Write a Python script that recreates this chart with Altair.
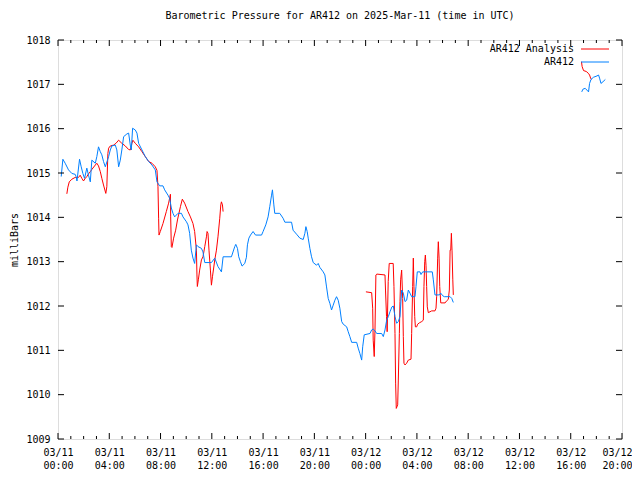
import altair as alt
import pandas as pd

TITLE = "Barometric Pressure for AR412 on 2025-Mar-11 (time in UTC)"
Y_TITLE = "milliBars"
SERIES = ["AR412 Analysis", "AR412"]
COLORS = ["#ff0000", "#0080ff"]

# hours since 2025-03-11 00:00 UTC
x_major = [0, 4, 8, 12, 16, 20, 24, 28, 32, 36, 40, 44]
x_minor = [h for h in range(0, 45) if h % 4 != 0]
y_major = [1009, 1010, 1011, 1012, 1013, 1014, 1015, 1016, 1017, 1018]

obs_hours = [
    0.25, 0.38, 0.56, 0.82, 1.08, 1.34, 1.41, 1.48, 1.68, 1.81,
    1.94, 2.07, 2.25, 2.38, 2.52, 2.64, 2.91, 3.03, 3.16, 3.30,
    3.42, 3.55, 3.69, 3.95, 4.08, 4.20, 4.47, 4.59, 4.73, 4.86,
    4.98, 5.12, 5.37, 5.51, 5.64, 5.72, 5.82, 6.03, 6.16, 6.29,
    6.55, 6.81, 7.07, 7.33, 7.59, 7.72, 7.93, 8.19, 8.32, 8.58,
    8.71, 8.84, 8.97, 9.10, 9.36, 9.63, 9.75, 10.02, 10.14, 10.27,
    10.40, 10.53, 10.66, 10.80, 10.92, 11.19, 11.31, 11.45, 11.97, 12.23,
    12.48, 12.75, 12.88, 13.53, 13.79, 13.87, 14.00, 14.10, 14.23, 14.36,
    14.57, 14.70, 14.78, 14.89, 15.02, 15.22, 15.41, 15.88, 16.00, 16.21,
    16.39, 16.52, 16.66, 16.73, 16.84, 16.91, 17.30, 17.56, 17.70, 18.22,
    18.34, 18.61, 18.87, 19.13, 19.26, 19.34, 19.44, 19.52, 19.65, 19.78,
    19.91, 20.17, 20.30, 20.43, 20.69, 20.82, 20.95, 21.08, 21.21, 21.34,
    21.47, 21.60, 21.73, 21.86, 21.99, 22.13, 22.25, 22.52, 22.64, 22.77,
    22.91, 23.30, 23.42, 23.55, 23.69, 23.77, 23.89, 24.34, 24.47, 24.59,
    24.73, 24.86, 25.25, 25.38, 25.51, 25.64, 25.77, 25.90, 26.05, 26.16,
    26.29, 26.42, 26.55, 26.68, 26.81, 26.94, 27.07, 27.20, 27.33, 27.46,
    27.59, 27.85, 27.93, 28.03, 28.24, 28.32, 28.45, 29.20, 29.28, 29.41,
    29.75, 29.86, 30.02, 30.14, 30.59, 30.72, 30.84,
    40.86, 40.95, 41.13, 41.26, 41.39, 41.47, 41.58, 41.78, 42.05, 42.17,
    42.25, 42.36, 42.52, 42.70,
]
obs_mb = [
    1014.92, 1015.31, 1015.22, 1015.07, 1014.99, 1014.97, 1014.92, 1014.82, 1015.31, 1015.14,
    1014.99, 1014.88, 1015.11, 1014.95, 1014.80, 1015.29, 1015.22, 1015.37, 1015.59, 1015.48,
    1015.41, 1015.26, 1015.14, 1015.37, 1015.52, 1015.61, 1015.63, 1015.52, 1015.14, 1015.29,
    1015.52, 1015.82, 1015.88, 1015.90, 1015.63, 1015.52, 1016.01, 1015.97, 1015.90, 1015.67,
    1015.52, 1015.37, 1015.26, 1015.18, 1015.07, 1014.80, 1014.71, 1014.71, 1014.62, 1014.50,
    1014.43, 1014.21, 1014.09, 1014.01, 1014.09, 1014.09, 1014.01, 1013.90, 1013.83, 1013.64,
    1013.26, 1013.08, 1012.96, 1013.38, 1013.34, 1013.30, 1013.22, 1012.98, 1012.98, 1013.08,
    1012.89, 1012.77, 1013.11, 1013.11, 1013.34, 1013.39, 1013.30, 1013.11, 1013.00, 1012.90,
    1012.96, 1013.10, 1013.38, 1013.53, 1013.60, 1013.68, 1013.60, 1013.60, 1013.68, 1013.83,
    1014.01, 1014.24, 1014.50, 1014.62, 1014.28, 1014.09, 1014.09, 1013.98, 1013.89, 1013.89,
    1013.71, 1013.62, 1013.53, 1013.50, 1013.64, 1013.79, 1013.68, 1013.53, 1013.30, 1013.11,
    1012.98, 1012.92, 1012.96, 1012.87, 1012.77, 1012.70, 1012.43, 1012.17, 1012.06, 1011.91,
    1012.02, 1012.13, 1012.21, 1012.13, 1011.95, 1011.65, 1011.59, 1011.53, 1011.42, 1011.31,
    1011.18, 1011.18, 1011.05, 1010.93, 1010.78, 1011.08, 1011.35, 1011.38, 1011.46, 1011.48,
    1011.44, 1011.38, 1011.38, 1011.31, 1011.46, 1011.68, 1011.76, 1011.87, 1011.98, 1012.00,
    1011.76, 1011.61, 1011.65, 1011.76, 1012.36, 1012.29, 1012.10, 1012.13, 1012.36, 1012.29,
    1012.21, 1012.21, 1012.44, 1012.77, 1012.77, 1012.71, 1012.77, 1012.77, 1012.59, 1012.25,
    1012.25, 1012.29, 1012.23, 1012.21, 1012.21, 1012.17, 1012.08,
    1016.83, 1016.89, 1016.91, 1016.87, 1016.83, 1017.02, 1017.11, 1017.16, 1017.19, 1017.21,
    1017.14, 1017.02, 1017.06, 1017.11,
]

ana_hours = [
    0.69, 0.77, 0.88, 1.08, 1.34, 1.60, 1.73, 1.86, 1.99, 2.13,
    2.25, 2.38, 2.52, 2.64, 2.91, 3.03, 3.16, 3.30, 3.42, 3.55,
    3.73, 3.81, 3.89, 3.95, 4.08, 4.34, 4.52, 4.73, 4.98, 5.25,
    5.51, 5.64, 5.77, 5.84, 6.03, 6.29, 6.55, 6.81, 7.07, 7.33,
    7.59, 7.72, 7.80, 7.85, 7.88, 7.98, 8.19, 8.45, 8.63, 8.77,
    8.79, 8.84, 8.89, 9.02, 9.18, 9.32, 9.55, 9.70, 9.88, 10.14,
    10.33, 10.53, 10.66, 10.80, 10.84, 10.87, 10.95, 11.05, 11.19, 11.31,
    11.45, 11.58, 11.63, 11.70, 11.78, 11.89, 11.97, 12.05, 12.23, 12.36,
    12.48, 12.62, 12.70, 12.75, 12.83, 12.88,
    24.02, 24.47, 24.55, 24.59, 24.67, 24.73, 24.80, 24.88, 25.51, 25.55,
    25.63, 25.68, 25.76, 25.84, 26.15, 26.21, 26.29, 26.34, 26.39, 26.50,
    26.55, 26.63, 26.68, 26.73, 26.81, 26.89, 26.94, 26.99, 27.07, 27.20,
    27.33, 27.54, 27.59, 27.67, 27.72, 27.77, 27.83, 27.88, 27.98, 28.06,
    28.19, 28.38, 28.50, 28.55, 28.61, 28.66, 28.71, 28.76, 28.81, 28.89,
    29.15, 29.41, 29.49, 29.54, 29.62, 29.67, 29.73, 29.78, 29.86, 30.20,
    30.33, 30.45, 30.53, 30.59, 30.64, 30.69, 30.74, 30.80, 30.84,
    40.84, 40.89, 41.00, 41.21, 41.37, 41.47, 41.55, 41.61,
]
ana_mb = [
    1014.53, 1014.68, 1014.80, 1014.86, 1014.90, 1014.90, 1014.95, 1014.88, 1014.82, 1014.88,
    1014.92, 1014.98, 1015.03, 1015.08, 1015.18, 1015.22, 1015.16, 1015.03, 1014.88, 1014.73,
    1014.54, 1014.69, 1015.44, 1015.56, 1015.61, 1015.63, 1015.67, 1015.74, 1015.67, 1015.61,
    1015.53, 1015.52, 1015.67, 1015.74, 1015.67, 1015.59, 1015.48, 1015.37, 1015.26, 1015.22,
    1015.14, 1015.06, 1014.69, 1013.98, 1013.60, 1013.68, 1013.86, 1014.13, 1014.32, 1014.52,
    1014.01, 1013.34, 1013.32, 1013.53, 1013.71, 1013.94, 1014.24, 1014.41, 1014.32, 1014.13,
    1014.01, 1013.86, 1013.68, 1013.26, 1012.70, 1012.44, 1012.59, 1012.81, 1013.04, 1013.11,
    1013.34, 1013.56, 1013.68, 1013.64, 1013.26, 1012.81, 1012.47, 1012.66, 1013.04, 1013.26,
    1013.56, 1013.98, 1014.28, 1014.35, 1014.28, 1014.13,
    1012.32, 1012.30, 1011.95, 1011.23, 1010.86, 1011.46, 1012.70, 1012.72, 1012.70, 1012.36,
    1011.76, 1011.42, 1012.55, 1012.96, 1012.96, 1012.44, 1011.38, 1010.26, 1009.69, 1009.77,
    1010.33, 1011.38, 1012.10, 1012.59, 1012.81, 1012.17, 1011.31, 1010.71, 1010.67, 1010.71,
    1010.78, 1010.80, 1011.38, 1012.44, 1013.08, 1012.44, 1011.76, 1011.53, 1011.53, 1011.59,
    1011.62, 1011.65, 1011.68, 1012.44, 1013.00, 1013.15, 1012.92, 1012.44, 1011.98, 1011.85,
    1011.89, 1011.89, 1011.95, 1012.21, 1013.08, 1013.45, 1013.08, 1012.44, 1012.07, 1012.07,
    1012.12, 1012.15, 1012.36, 1013.26, 1013.26, 1013.64, 1013.26, 1012.59, 1012.25,
    1017.51, 1017.40, 1017.31, 1017.29, 1017.25, 1017.21, 1017.14, 1017.11,
]

FONT = "DejaVu Sans Mono"
W, H = 564, 399


def series_df(hours, vals, name):
    seg, s = [], 0
    for i in range(len(hours)):
        if i and hours[i] - hours[i - 1] > 1:
            s += 1
        seg.append(s)
    return pd.DataFrame({"hour": hours, "mb": vals, "seg": seg, "series": name})


ana_df = series_df(ana_hours, ana_mb, SERIES[0])
obs_df = series_df(obs_hours, obs_mb, SERIES[1])

xs = alt.Scale(domain=[0, 44], nice=False, zero=False)
ys = alt.Scale(domain=[1009, 1018], nice=False, zero=False)

label_expr = ("[datum.value < 24 ? '03/11' : '03/12', "
              "(datum.value % 24 < 10 ? '0' : '') + (datum.value % 24) + ':00']")

x_axis = alt.Axis(values=x_major, labelExpr=label_expr, title=None, labelFont=FONT,
                  labelFontSize=10, labelColor="black", labelPadding=8, labelLineHeight=13,
                  labelBaseline="top", labelAlign="center", ticks=False, domain=False,
                  grid=False, labelFlush=False, labelOverlap=False,
                  labelOffset={"condition": {"test": "datum.value >= 44", "value": -5},
                               "value": 0})
y_axis = alt.Axis(values=y_major, title=Y_TITLE, titleFont=FONT, titleFontSize=10,
                  titleFontWeight="normal", titleColor="black", titlePadding=6,
                  labelFont=FONT, labelFontSize=10, labelColor="black", labelPadding=8,
                  ticks=False, domain=False, grid=False, format="d", labelFlush=False,
                  labelOverlap=False)

X = alt.X("hour:Q", scale=xs, axis=x_axis)
Y = alt.Y("mb:Q", scale=ys, axis=y_axis)

ana = alt.Chart(ana_df).mark_line(color=COLORS[0], strokeWidth=1).encode(
    x=X, y=Y, detail="seg:N")
obs = alt.Chart(obs_df).mark_line(color=COLORS[1], strokeWidth=1).encode(
    x=X, y=Y, detail="seg:N")

ytick_df = pd.DataFrame({"mb": y_major})
xmaj_df = pd.DataFrame({"hour": x_major})
xmin_df = pd.DataFrame({"hour": x_minor})

tick_layers = []
for x0, x1 in [(0, 6), (W - 6, W)]:
    tick_layers.append(alt.Chart(ytick_df).mark_rule(color="black", strokeWidth=1).encode(
        y=Y, x=alt.value(x0), x2=alt.value(x1)))
for df, ln in [(xmaj_df, 6), (xmin_df, 3)]:
    tick_layers.append(alt.Chart(df).mark_rule(color="black", strokeWidth=1).encode(
        x=X, y=alt.value(H - ln), y2=alt.value(H)))
    tick_layers.append(alt.Chart(df).mark_rule(color="black", strokeWidth=1).encode(
        x=X, y=alt.value(0), y2=alt.value(ln)))

legend_layers = []
for i, (name, col) in enumerate(zip(SERIES, COLORS)):
    ly = 9 + 13 * i
    ldf = pd.DataFrame({"label": [name]})
    legend_layers.append(alt.Chart(ldf).mark_text(
        align="right", baseline="middle", font=FONT, fontSize=10, color="black").encode(
        text="label:N", x=alt.value(516), y=alt.value(ly)))
    legend_layers.append(alt.Chart(ldf).mark_rule(color=col, strokeWidth=1).encode(
        x=alt.value(523), x2=alt.value(551), y=alt.value(ly)))

chart = alt.layer(ana, obs, *tick_layers, *legend_layers).properties(
    width=W,
    height=H,
    title=alt.Title(TITLE, font=FONT, fontSize=10, fontWeight="normal", color="black",
                    anchor="middle", offset=14),
    autosize=alt.AutoSizeParams(type="none"),
    padding={"left": 50, "top": 32, "right": 10, "bottom": 41},
).configure_view(stroke="black", strokeWidth=1).configure(background="white")

chart.save("out.html", embed_options={"renderer": "svg", "actions": False})
